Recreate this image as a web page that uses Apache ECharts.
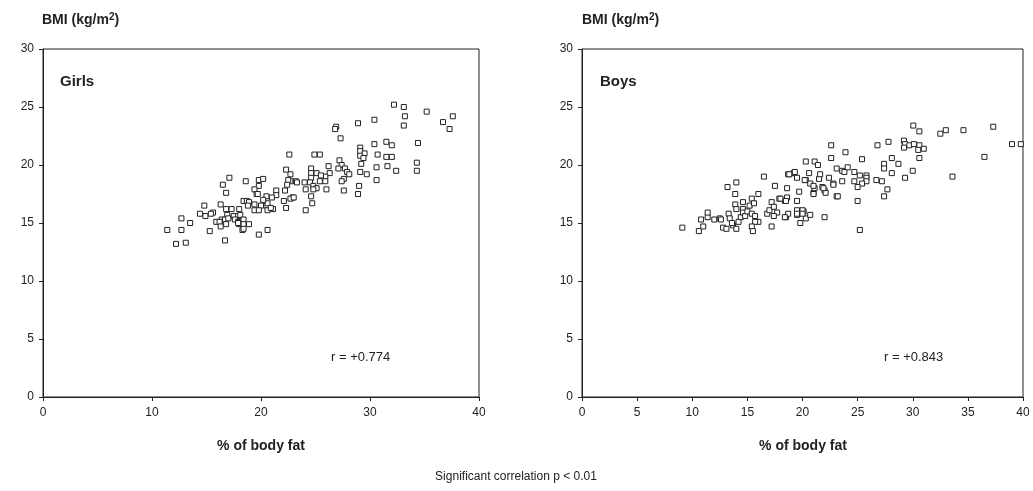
<!DOCTYPE html>
<html>
<head>
<meta charset="utf-8">
<script src="https://cdn.jsdelivr.net/npm/echarts@6/dist/echarts.min.js"></script>
<style>html,body{margin:0;padding:0;background:#fff;}#c{width:1033px;height:491px;}</style>
</head>
<body>
<div id="c"></div>
<script>
const girls = [
[32.2,25.2],[33.1,25.0],[35.2,24.6],[37.6,24.2],[33.2,24.2],[36.7,23.7],[37.3,23.1],[33.1,23.4],[30.4,23.9],[28.9,23.6],[26.9,23.3],[26.8,23.1],[27.3,22.3],[34.4,21.9],[30.4,21.8],[31.5,22.0],[32.0,21.7],[29.1,21.5],[29.1,21.2],[29.5,21.0],[29.1,20.8],[29.4,20.6],[30.7,20.9],[31.5,20.7],[32.0,20.7],[29.2,20.1],[30.6,19.8],[31.6,19.9],[32.4,19.5],[34.3,20.2],[34.3,19.5],[29.1,19.4],[29.7,19.2],[30.6,18.7],[29.0,18.2],[28.9,17.5],[27.6,17.8],
[24.9,20.9],[25.4,20.9],[27.2,20.4],[27.4,20.0],[27.1,19.7],[27.7,19.7],[27.9,19.4],[28.1,19.2],[26.2,19.9],[26.3,19.3],[25.9,19.0],[24.6,19.7],[24.6,19.3],[24.6,18.9],[25.1,19.3],[25.5,19.1],[23.2,18.6],[24.0,18.5],[24.5,18.5],[25.4,18.6],[25.9,18.6],[27.6,18.8],[27.4,18.6],[24.8,18.2],[25.1,18.0],[24.8,17.9],[24.1,17.9],[26.0,17.9],[24.6,17.3],[24.7,16.7],[24.1,16.1],[22.9,17.2],[22.7,17.1],[22.7,19.2],[22.7,18.6],[22.6,20.9],[22.3,19.6],[22.5,18.7],[22.2,17.8],[22.4,18.3],[22.1,16.9],[22.3,16.3],[23.3,18.5],[23.0,17.2],
[17.1,18.9],[16.5,18.3],[18.6,18.6],[19.8,18.7],[20.2,18.8],[19.8,18.2],[19.4,17.9],[16.8,17.6],[19.6,17.5],[21.4,17.8],[21.4,17.4],[20.5,17.3],[21.0,17.2],[18.4,16.9],[18.7,16.9],[18.9,16.8],[19.4,16.6],[20.0,16.5],[20.5,16.5],[20.6,16.7],[21.1,16.2],[20.6,16.1],[20.9,16.3],[18.8,16.5],[19.4,16.1],[19.8,16.1],[16.3,16.6],[16.8,16.2],[17.3,16.2],[14.8,16.5],[14.4,15.8],[14.9,15.6],[15.6,15.9],[15.4,15.8],[16.9,15.7],[16.4,15.3],[16.7,15.3],[17.0,15.4],[15.9,15.1],[16.2,15.1],[16.3,14.7],[16.8,14.9],[17.5,15.6],[17.9,15.6],[18.1,15.7],[17.6,15.3],[17.9,15.1],[18.3,15.2],[18.4,15.3],[18.0,14.9],[18.4,14.9],[18.9,14.9],[18.3,14.4],[20.6,14.4],[19.8,14.0],[15.3,14.3],[16.7,13.5],[12.7,15.4],[13.5,15.0],[12.7,14.4],[11.4,14.4],[12.2,13.2],[13.1,13.3],[18.4,14.5],[17.9,15.0],[19.7,17.5],[20.2,17.0],[18.0,16.2]
];
const boys = [
[9.1,14.6],[10.6,14.3],[11.0,14.7],[10.8,15.3],[11.4,15.5],[11.4,15.9],[12.0,15.3],[12.5,15.4],[12.6,15.3],[12.8,14.6],[13.1,14.5],[13.7,14.8],[14.0,14.5],[13.3,15.8],[13.4,15.4],[13.6,15.0],[14.2,15.1],[14.4,15.5],[13.9,16.6],[14.0,16.2],[14.6,16.8],[14.6,16.2],[14.6,15.9],[14.8,15.6],[15.0,16.0],[15.2,16.5],[15.4,17.1],[15.6,16.7],[15.4,15.8],[15.7,15.6],[16.0,15.1],[15.7,15.1],[15.4,14.7],[15.5,14.3],[13.9,17.5],[13.2,18.1],[14.0,18.5],[16.0,17.5],[16.5,19.0],[16.8,15.8],[17.0,16.1],[17.2,16.8],[17.4,16.4],[17.7,15.9],[17.4,15.6],[17.2,14.7],[17.5,18.2],[17.9,17.1],[18.4,16.9],[18.6,17.2],[18.6,18.0],[18.5,15.5],[18.7,15.8],[18.7,19.2],[19.2,19.3],[19.5,18.9],[19.3,19.4],[19.5,16.9],[19.5,15.9],[19.5,15.7],[20.1,16.0],[19.8,15.0],[20.3,15.4],[20.7,15.7],[19.7,17.7],[20.3,20.3],[21.1,20.3],[21.4,20.0],[20.6,19.3],[20.3,18.7],[20.7,18.4],[21.0,17.6],[21.1,18.0],[21.5,18.8],[21.6,19.2],[21.8,18.1],[22.0,17.8],[22.1,17.6],[22.4,18.9],[22.8,18.4],[23.1,19.7],[23.1,17.3],[22.0,15.5],
[30.05,23.4],[30.6,22.9],[32.5,22.7],[33.0,23.0],[34.6,23.0],[37.3,23.3],[39.0,21.8],[39.8,21.8],[36.5,20.7],[33.6,19.0],[29.2,22.1],[29.3,21.8],[29.2,21.5],[29.7,21.7],[30.1,21.8],[30.6,21.7],[30.5,21.3],[31.0,21.4],[30.6,20.6],[30.0,19.5],[29.3,18.9],[26.8,21.7],[27.8,22.0],[28.1,20.6],[28.7,20.1],[27.4,20.1],[27.4,19.7],[28.1,19.3],[26.7,18.7],[27.2,18.6],[27.7,17.9],[27.4,17.3],[25.4,20.5],[23.9,21.1],[22.6,21.7],[22.6,20.6],[23.6,19.5],[23.8,19.4],[24.1,19.8],[24.7,19.4],[25.2,19.1],[25.8,19.1],[25.8,18.9],[25.8,18.6],[25.4,18.4],[25.0,18.1],[24.7,18.6],[23.6,18.6],[22.8,18.3],[23.2,17.3],[25.0,16.9],[25.2,14.4],[18.8,19.2],[21.0,18.2],[20.2,18.7],[21.9,18.0],[21.0,17.5],[19.5,16.1],[20.0,16.1],[20.0,15.8],[19.5,15.8],[18.4,15.5],[18.0,17.1],[18.5,16.9]
];
const yTicks = [0, 5, 10, 15, 20, 25, 30];
const xIntervalGirls = 10;
const xIntervalBoys = 5;
const panelLabels = ['Girls', 'Boys'];
const rLabels = ['r = +0.774', 'r = +0.843'];
const yTitle = 'BMI (kg/m²)';
const xTitle = '% of body fat';
const footnote = 'Significant correlation p < 0.01';

const FONT = 'Liberation Sans, Arial, sans-serif';
const chart = echarts.init(document.getElementById('c'), null, {renderer: 'canvas'});

function xAxis(idx, interval) {
  return {
    type: 'value', gridIndex: idx, min: 0, max: 40, interval: interval,
    axisLine: {show: true, onZero: false, lineStyle: {color: '#222', width: 1}},
    axisTick: {show: true, length: 4, lineStyle: {color: '#222'}},
    axisLabel: {color: '#222', fontFamily: FONT, fontSize: 12, margin: 10},
    splitLine: {show: false}
  };
}
function yAxis(idx) {
  return {
    type: 'value', gridIndex: idx, min: yTicks[0], max: yTicks[yTicks.length - 1], interval: 5,
    axisLine: {show: true, lineStyle: {color: '#222', width: 1}},
    axisTick: {show: true, length: 4, lineStyle: {color: '#222'}},
    axisLabel: {color: '#222', fontFamily: FONT, fontSize: 12, margin: 9},
    splitLine: {show: false}
  };
}
function scatter(idx, data) {
  return {
    type: 'scatter', xAxisIndex: idx, yAxisIndex: idx, data: data,
    symbol: 'rect', symbolSize: 5,
    itemStyle: {color: '#fff', borderColor: '#222', borderWidth: 1, opacity: 1},
    silent: true, animation: false
  };
}
const textStyle = (t, size, weight) => ({text: t, fill: '#222', font: weight + ' ' + size + 'px ' + FONT});
const titleRich = {a: {fontSize: 14, fontWeight: 'bold', fontFamily: FONT, fill: '#222'}, s: {fontSize: 10, fontWeight: 'bold', fontFamily: FONT, fill: '#222', verticalAlign: 'top', padding: [0,0,6,0]}};

chart.setOption({
  animation: false,
  grid: [
    {left: 43, right: 554, top: 49, bottom: 94, show: true, borderColor: '#222', borderWidth: 1, backgroundColor: 'transparent'},
    {left: 582, right: 10, top: 49, bottom: 94, show: true, borderColor: '#222', borderWidth: 1, backgroundColor: 'transparent'}
  ],
  xAxis: [xAxis(0, xIntervalGirls), xAxis(1, xIntervalBoys)],
  yAxis: [yAxis(0), yAxis(1)],
  series: [scatter(0, girls), scatter(1, boys)],
  graphic: [
    {type: 'text', left: 42, top: 12, style: {text: '{a|BMI (kg/m}{s|2}{a|)}', rich: titleRich}},
    {type: 'text', left: 582, top: 12, style: {text: '{a|BMI (kg/m}{s|2}{a|)}', rich: titleRich}},
    {type: 'text', left: 60, top: 74, style: textStyle(panelLabels[0], 15, 'bold')},
    {type: 'text', left: 600, top: 74, style: textStyle(panelLabels[1], 15, 'bold')},
    {type: 'text', left: 331, top: 351, style: textStyle(rLabels[0], 13, 'normal')},
    {type: 'text', left: 884, top: 351, style: textStyle(rLabels[1], 13, 'normal')},
    {type: 'text', x: 261, y: 446, style: Object.assign(textStyle(xTitle, 14, 'bold'), {textAlign: 'center', textVerticalAlign: 'middle'})},
    {type: 'text', x: 803, y: 446, style: Object.assign(textStyle(xTitle, 14, 'bold'), {textAlign: 'center', textVerticalAlign: 'middle'})},
    {type: 'text', x: 516, y: 477, style: Object.assign(textStyle(footnote, 12, 'normal'), {textAlign: 'center', textVerticalAlign: 'middle'})}
  ]
});
</script>
</body>
</html>
